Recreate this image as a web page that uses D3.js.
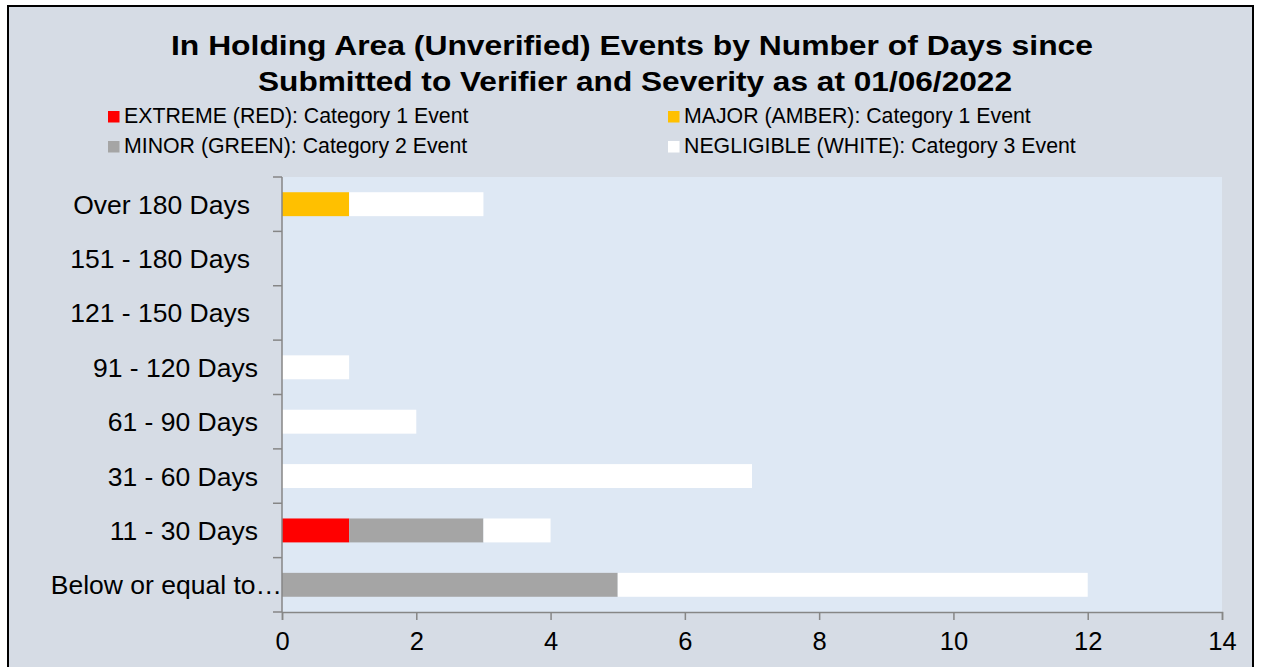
<!DOCTYPE html>
<html>
<head>
<meta charset="utf-8">
<script src="https://cdn.jsdelivr.net/npm/d3@7/dist/d3.min.js"></script>
<style>
  html, body { margin: 0; padding: 0; background: #ffffff; }
  svg { display: block; font-family: "Liberation Sans", Arial, sans-serif; }
</style>
</head>
<body>
<svg id="chart" width="1262" height="667"></svg>
<script>
// ---- data ----
const categories = ["Over 180 Days", "151 - 180 Days", "121 - 150 Days", "91 - 120 Days",
                    "61 - 90 Days", "31 - 60 Days", "11 - 30 Days", "Below or equal to…"];
const seriesNames = ["EXTREME (RED): Category 1 Event", "MAJOR (AMBER): Category 1 Event",
                     "MINOR (GREEN): Category 2 Event", "NEGLIGIBLE (WHITE): Category 3 Event"];
const extreme    = [0, 0, 0, 0, 0, 0, 1, 0];
const major      = [1, 0, 0, 0, 0, 0, 0, 0];
const minor      = [0, 0, 0, 0, 0, 0, 2, 5];
const negligible = [2, 0, 0, 1, 2, 7, 1, 7];
const xTicks = [0, 2, 4, 6, 8, 10, 12, 14];
const titleLines = ["In Holding Area (Unverified) Events by Number of Days since",
                    "Submitted to Verifier and Severity as at 01/06/2022"];
const colors = ["#FF0000", "#FFC000", "#A5A5A5", "#FFFFFF"];

// ---- layout ----
const svg = d3.select("#chart");
const plot = { left: 282, right: 1222, top: 177, bottom: 612 };

// chart area background + border
svg.append("rect").attr("x", 8).attr("y", 6).attr("width", 1245).attr("height", 670)
  .attr("fill", "#D6DCE5").attr("stroke", "#000").attr("stroke-width", 2);

// plot area
svg.append("rect").attr("x", plot.left).attr("y", plot.top)
  .attr("width", plot.right - plot.left).attr("height", plot.bottom - plot.top)
  .attr("fill", "#DEE8F4");

const x = d3.scaleLinear().domain([0, 14]).range([plot.left, plot.right]);
const y = d3.scaleBand().domain(categories).range([plot.top, plot.bottom])
  .paddingInner(0.56).paddingOuter(0.28);

const table = categories.map((c, i) => ({
  cat: c, s0: extreme[i], s1: major[i], s2: minor[i], s3: negligible[i]
}));
const stack = d3.stack().keys(["s0", "s1", "s2", "s3"])(table);

svg.append("g").selectAll("g").data(stack).join("g")
  .attr("fill", (d, i) => colors[i])
  .selectAll("rect").data(d => d).join("rect")
  .attr("x", d => x(d[0]))
  .attr("y", d => y(d.data.cat))
  .attr("width", d => x(d[1]) - x(d[0]))
  .attr("height", y.bandwidth());

// x axis
const xAxis = svg.append("g").attr("transform", `translate(0,${plot.bottom})`)
  .call(d3.axisBottom(x).tickValues(xTicks).tickSize(8).tickPadding(12).tickSizeOuter(8));
xAxis.select(".domain").attr("stroke", "#868686").attr("stroke-width", 1.5);
xAxis.selectAll(".tick line").attr("stroke", "#868686").attr("stroke-width", 1.5);
xAxis.selectAll(".tick text").attr("font-size", 25.5).attr("fill", "#000")
  .attr("font-family", "Liberation Sans, Arial, sans-serif");

// y axis line + ticks at band boundaries
const yG = svg.append("g");
yG.append("line").attr("x1", plot.left).attr("x2", plot.left)
  .attr("y1", plot.top).attr("y2", plot.bottom)
  .attr("stroke", "#868686").attr("stroke-width", 1.5);
d3.range(categories.length + 1).forEach(i => {
  const yy = plot.top + i * (plot.bottom - plot.top) / categories.length;
  yG.append("line").attr("x1", plot.left - 9).attr("x2", plot.left)
    .attr("y1", yy).attr("y2", yy).attr("stroke", "#868686").attr("stroke-width", 1.5);
});
const labelShift = { "Over 180 Days": -8, "151 - 180 Days": -8, "121 - 150 Days": -8, "Below or equal to…": 24 };
yG.selectAll("text.ylab").data(categories).join("text")
  .attr("class", "ylab")
  .attr("x", d => plot.left - 24 + (labelShift[d] || 0))
  .attr("y", d => y(d) + y.bandwidth() / 2)
  .attr("dy", "0.36em")
  .attr("text-anchor", "end")
  .attr("font-size", 26.5)
  .attr("fill", "#000")
  .text(d => d);

// title
const titleWidths = [922, 754];
svg.append("g").selectAll("text").data(titleLines).join("text")
  .attr("x", (d, i) => i === 0 ? 632 : 635).attr("y", (d, i) => 55 + i * 36)
  .attr("text-anchor", "middle").attr("font-size", 28.5).attr("font-weight", "bold")
  .attr("textLength", (d, i) => titleWidths[i]).attr("lengthAdjust", "spacingAndGlyphs")
  .attr("fill", "#000").text(d => d);

// legend
const legPos = [[108, 111], [668, 111], [108, 141], [668, 141]];
const leg = svg.append("g").selectAll("g").data(seriesNames).join("g")
  .attr("transform", (d, i) => `translate(${legPos[i][0]},${legPos[i][1]})`);
leg.append("rect").attr("width", 11.5).attr("height", 11.5).attr("fill", (d, i) => colors[i]);
leg.append("text").attr("x", 16).attr("y", 12).attr("font-size", 21.3).attr("fill", "#000")
  .text(d => d);
</script>
</body>
</html>
